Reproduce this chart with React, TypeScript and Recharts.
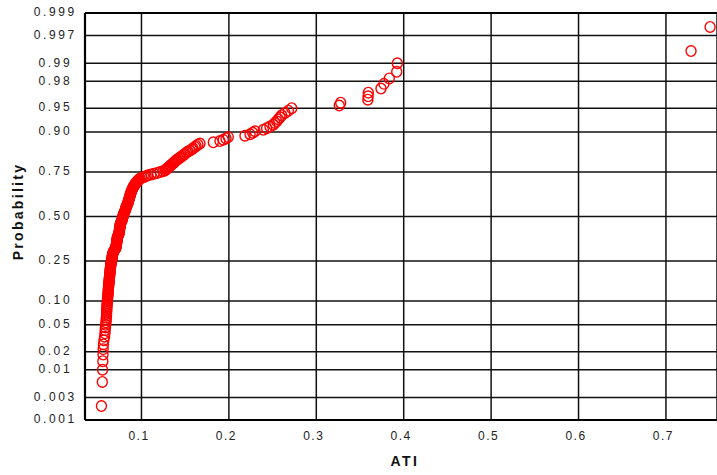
import React from 'react';
import { ScatterChart, Scatter, XAxis, YAxis, CartesianGrid, ReferenceLine, Label } from 'recharts';

const ATI_VALUES: number[] = [
  0.0542, 0.0552, 0.0555, 0.0558, 0.0560, 0.0562, 0.0565, 0.0570, 0.0578, 0.0582,
  0.0585, 0.0588, 0.0591, 0.0594, 0.0596, 0.0598, 0.0600, 0.0601, 0.0602, 0.0603,
  0.0604, 0.0605, 0.0607, 0.0608, 0.0609, 0.0611, 0.0612, 0.0613, 0.0615, 0.0617,
  0.0618, 0.0619, 0.0620, 0.0621, 0.0622, 0.0623, 0.0624, 0.0626, 0.0627, 0.0628,
  0.0629, 0.0630, 0.0631, 0.0633, 0.0634, 0.0635, 0.0636, 0.0637, 0.0638, 0.0640,
  0.0641, 0.0642, 0.0643, 0.0644, 0.0645, 0.0646, 0.0647, 0.0648, 0.0650, 0.0651,
  0.0653, 0.0655, 0.0657, 0.0659, 0.0662, 0.0663, 0.0664, 0.0665, 0.0666, 0.0668,
  0.0670, 0.0673, 0.0675, 0.0677, 0.0680, 0.0686, 0.0691, 0.0697, 0.0703, 0.0708,
  0.0709, 0.0710, 0.0711, 0.0713, 0.0714, 0.0715, 0.0716, 0.0717, 0.0719, 0.0720,
  0.0721, 0.0722, 0.0723, 0.0724, 0.0725, 0.0729, 0.0733, 0.0737, 0.0740, 0.0743,
  0.0744, 0.0745, 0.0746, 0.0747, 0.0748, 0.0749, 0.0750, 0.0752, 0.0753, 0.0754,
  0.0755, 0.0756, 0.0757, 0.0758, 0.0760, 0.0764, 0.0767, 0.0771, 0.0774, 0.0777,
  0.0779, 0.0781, 0.0783, 0.0785, 0.0787, 0.0789, 0.0791, 0.0793, 0.0795, 0.0799,
  0.0802, 0.0805, 0.0808, 0.0811, 0.0815, 0.0817, 0.0819, 0.0821, 0.0823, 0.0826,
  0.0829, 0.0832, 0.0836, 0.0839, 0.0843, 0.0845, 0.0847, 0.0849, 0.0851, 0.0854,
  0.0856, 0.0858, 0.0860, 0.0863, 0.0866, 0.0868, 0.0870, 0.0872, 0.0874, 0.0877,
  0.0880, 0.0883, 0.0886, 0.0889, 0.0892, 0.0896, 0.0900, 0.0904, 0.0908, 0.0913,
  0.0918, 0.0924, 0.0930, 0.0936, 0.0943, 0.0950, 0.0958, 0.0966, 0.0975, 0.0985,
  0.1006, 0.1029, 0.1052, 0.1074, 0.1109, 0.1143, 0.1178, 0.1213, 0.1246, 0.1269,
  0.1280, 0.1292, 0.1303, 0.1315, 0.1326, 0.1337, 0.1349, 0.1360, 0.1372, 0.1383,
  0.1394, 0.1406, 0.1423, 0.1440, 0.1452, 0.1469, 0.1486, 0.1497, 0.1515, 0.1532,
  0.1555, 0.1578, 0.1589, 0.1612, 0.1624, 0.1646, 0.1669, 0.1822, 0.1898, 0.1936,
  0.1967, 0.1993, 0.2184, 0.2242, 0.2272, 0.2299, 0.2394, 0.2432, 0.2470, 0.2508,
  0.2527, 0.2547, 0.2565, 0.2585, 0.2604, 0.2642, 0.2680, 0.2719, 0.3263, 0.3279,
  0.3590, 0.3593, 0.3595, 0.3740, 0.3774, 0.3835, 0.3920, 0.3927, 0.7287, 0.7505,
];

const PROB_TICKS: number[] = [0.001, 0.003, 0.01, 0.02, 0.05, 0.10, 0.25, 0.50, 0.75, 0.90, 0.95, 0.98, 0.99, 0.997, 0.999];
const PROB_TICK_LABELS: string[] = ['0.001', '0.003', '0.01', '0.02', '0.05', '0.10', '0.25', '0.50', '0.75', '0.90', '0.95', '0.98', '0.99', '0.997', '0.999'];
const ATI_TICKS: number[] = [0.1, 0.2, 0.3, 0.4, 0.5, 0.6, 0.7];
const ATI_TICK_LABELS: string[] = ['0.1', '0.2', '0.3', '0.4', '0.5', '0.6', '0.7'];
const X_TITLE = 'ATI';
const Y_TITLE = 'Probability';

// inverse standard normal CDF (Acklam)
function normInv(p: number): number {
  const a = [-3.969683028665376e+01, 2.209460984245205e+02, -2.759285104469687e+02, 1.383577518672690e+02, -3.066479806614716e+01, 2.506628277459239e+00];
  const b = [-5.447609879822406e+01, 1.615858368580409e+02, -1.556989798598866e+02, 6.680131188771802e+01, -1.328068155288572e+01];
  const c = [-7.784894002430293e-03, -3.223964580411365e-01, -2.400758277161838e+00, -2.549671348283479e+00, 4.374664141464968e+00, 2.938163982698783e+00];
  const d = [7.784695709041462e-03, 3.224671290700398e-01, 2.445134137142996e+00, 3.754408661907416e+00];
  const plow = 0.02425;
  if (p < plow) {
    const q = Math.sqrt(-2 * Math.log(p));
    return (((((c[0] * q + c[1]) * q + c[2]) * q + c[3]) * q + c[4]) * q + c[5]) / ((((d[0] * q + d[1]) * q + d[2]) * q + d[3]) * q + 1);
  }
  if (p <= 1 - plow) {
    const q = p - 0.5;
    const r = q * q;
    return (((((a[0] * r + a[1]) * r + a[2]) * r + a[3]) * r + a[4]) * r + a[5]) * q / (((((b[0] * r + b[1]) * r + b[2]) * r + b[3]) * r + b[4]) * r + 1);
  }
  const q = Math.sqrt(-2 * Math.log(1 - p));
  return -(((((c[0] * q + c[1]) * q + c[2]) * q + c[3]) * q + c[4]) * q + c[5]) / ((((d[0] * q + d[1]) * q + d[2]) * q + d[3]) * q + 1);
}

const N = ATI_VALUES.length;
// Hazen plotting positions (i - 0.5) / n on a normal probability scale
const data = ATI_VALUES.map((v, i) => ({ x: v, z: normInv((i + 0.5) / N) }));
const Z_TICKS = PROB_TICKS.map(normInv);
const Z_MIN = Z_TICKS[0];
const Z_MAX = Z_TICKS[Z_TICKS.length - 1];

const FONT = '"Liberation Sans", Arial, Helvetica, sans-serif';

const YTick = (props: any) => {
  const { y, payload } = props;
  let idx = 0;
  let best = Infinity;
  Z_TICKS.forEach((z, i) => {
    const dd = Math.abs(z - payload.value);
    if (dd < best) { best = dd; idx = i; }
  });
  return (
    <text x={55.3} y={y + 3.3} textAnchor="middle" fontFamily={FONT} fontSize={12} letterSpacing={2.6} fill="#222">
      {PROB_TICK_LABELS[idx]}
    </text>
  );
};

const XTick = (props: any) => {
  const { x, payload } = props;
  let idx = 0;
  let best = Infinity;
  ATI_TICKS.forEach((t, i) => {
    const dd = Math.abs(t - payload.value);
    if (dd < best) { best = dd; idx = i; }
  });
  return (
    <text x={x - 2.5} y={439.5} textAnchor="middle" fontFamily={FONT} fontSize={12} letterSpacing={1.5} fill="#222">
      {ATI_TICK_LABELS[idx]}
    </text>
  );
};

const Marker = (props: any) => {
  const { cx, cy } = props;
  if (cx == null || cy == null) return null;
  return <ellipse cx={cx} cy={cy} rx={5} ry={5.3} fill="none" stroke="#ff0000" strokeWidth={1.4} />;
};

export default function App() {
  return (
    <div style={{ position: 'fixed', left: 0, top: 0, width: 717, height: 475, background: '#fff', overflow: 'hidden' }}>
      <ScatterChart width={717} height={475} margin={{ top: 13, right: 0, bottom: 25, left: 0 }}>
        <CartesianGrid stroke="#111" strokeWidth={1.5} />
        <XAxis
          type="number"
          dataKey="x"
          domain={[0.0354, 0.7584]}
          ticks={ATI_TICKS}
          height={30}
          tickLine={false}
          axisLine={{ stroke: '#000', strokeWidth: 2.2 }}
          tick={<XTick />}
          interval={0}
        >
          <Label
            content={() => (
              <text x={405} y={466} textAnchor="middle" fontFamily={FONT} fontSize={14} fontWeight="bold" letterSpacing={2.5} fill="#111">
                {X_TITLE}
              </text>
            )}
          />
        </XAxis>
        <YAxis
          type="number"
          dataKey="z"
          domain={[Z_MIN, Z_MAX]}
          ticks={Z_TICKS}
          width={85}
          tickLine={false}
          axisLine={{ stroke: '#000', strokeWidth: 2.2 }}
          tick={<YTick />}
          interval={0}
        >
          <Label
            content={() => (
              <text x={23} y={211.5} transform="rotate(-90, 23, 211.5)" textAnchor="middle" fontFamily={FONT} fontSize={14} fontWeight="bold" letterSpacing={2.3} fill="#111">
                {Y_TITLE}
              </text>
            )}
          />
        </YAxis>
        <ReferenceLine y={Z_MAX} stroke="#000" strokeWidth={2.2} />
        <Scatter data={data} shape={<Marker />} isAnimationActive={false} />
      </ScatterChart>
    </div>
  );
}
